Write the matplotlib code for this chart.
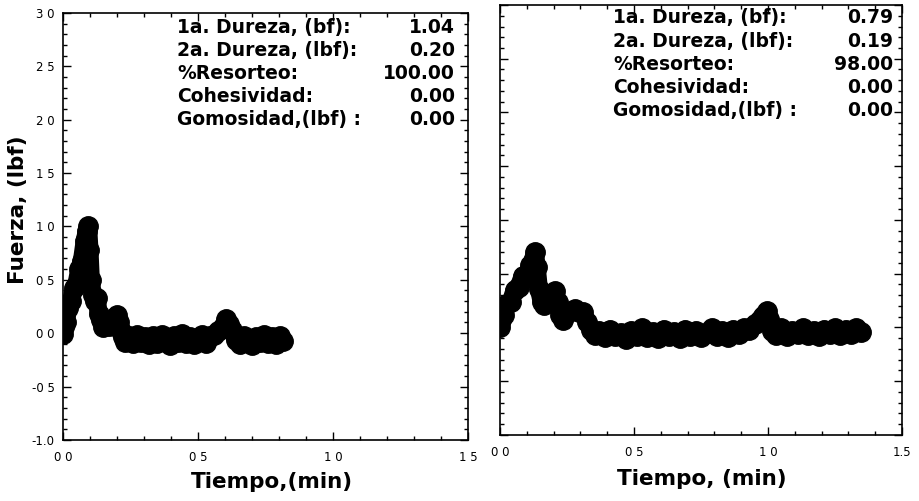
import matplotlib
matplotlib.use("Agg")
import matplotlib.pyplot as plt
from matplotlib.ticker import MultipleLocator, FixedLocator, FixedFormatter

plt.rcParams['font.family'] = ['DejaVu Sans']

# --- muestra 1: fuerza (lbf) vs tiempo (min)
t1 = [0.000, 0.005, 0.010, 0.020, 0.030, 0.040, 0.050, 0.060, 0.070, 0.080,
      0.088, 0.093, 0.098, 0.103, 0.110, 0.118, 0.125, 0.132, 0.140, 0.150,
      0.160, 0.170, 0.180, 0.190, 0.200, 0.208, 0.215, 0.222, 0.230, 0.245,
      0.260, 0.275, 0.290, 0.305, 0.320, 0.335, 0.350, 0.365, 0.380, 0.395,
      0.410, 0.425, 0.440, 0.455, 0.470, 0.485, 0.500, 0.515, 0.530, 0.545,
      0.560, 0.575, 0.590, 0.605, 0.615, 0.625, 0.640, 0.655, 0.670, 0.685,
      0.700, 0.715, 0.730, 0.745, 0.760, 0.775, 0.790, 0.805, 0.815]
f1 = [-0.01, 0.06, 0.10, 0.24, 0.30, 0.42, 0.46, 0.60, 0.68, 0.86,
      0.96, 1.00, 0.78, 0.50, 0.36, 0.30, 0.33, 0.18, 0.12, 0.06,
      0.12, 0.07, 0.13, 0.14, 0.17, 0.10, 0.02, -0.04, -0.08, -0.03,
      -0.09, -0.02, -0.08, -0.04, -0.10, -0.03, -0.09, -0.02, -0.07, -0.11,
      -0.03, -0.08, -0.01, -0.09, -0.04, -0.10, -0.05, -0.02, -0.09, -0.03,
      -0.02, 0.02, 0.05, 0.13, 0.09, 0.03, -0.06, -0.10, -0.03, -0.08,
      -0.11, -0.04, -0.08, -0.02, -0.09, -0.04, -0.10, -0.03, -0.07]

# --- muestra 2
t2 = [0.000, 0.005, 0.015, 0.025, 0.040, 0.055, 0.070, 0.085, 0.100, 0.112,
      0.122, 0.130, 0.137, 0.145, 0.155, 0.165, 0.180, 0.195, 0.205, 0.215,
      0.225, 0.235, 0.250, 0.265, 0.280, 0.295, 0.310, 0.325, 0.340, 0.355,
      0.370, 0.390, 0.410, 0.430, 0.450, 0.470, 0.490, 0.510, 0.530, 0.550,
      0.570, 0.590, 0.610, 0.630, 0.650, 0.670, 0.690, 0.710, 0.730, 0.750,
      0.770, 0.790, 0.810, 0.830, 0.850, 0.870, 0.890, 0.910, 0.930, 0.950,
      0.965, 0.980, 0.995, 1.005, 1.015, 1.030, 1.050, 1.070, 1.090, 1.110,
      1.130, 1.150, 1.170, 1.190, 1.210, 1.230, 1.250, 1.270, 1.290, 1.310,
      1.330, 1.345]
f2 = [0.00, 0.07, 0.12, 0.22, 0.24, 0.35, 0.38, 0.48, 0.47, 0.58,
      0.62, 0.70, 0.56, 0.36, 0.24, 0.21, 0.29, 0.31, 0.34, 0.24,
      0.12, 0.07, 0.13, 0.15, 0.17, 0.14, 0.14, 0.05, -0.02, -0.07,
      -0.03, -0.09, -0.02, -0.08, -0.05, -0.11, -0.03, -0.08, -0.01, -0.09,
      -0.04, -0.10, -0.02, -0.08, -0.04, -0.10, -0.02, -0.08, -0.03, -0.09,
      -0.05, -0.01, -0.08, -0.03, -0.09, -0.02, -0.06, -0.01, -0.02, 0.03,
      0.06, 0.11, 0.15, 0.08, -0.03, -0.07, -0.01, -0.08, -0.03, -0.06,
      -0.01, -0.07, -0.03, -0.08, -0.02, -0.06, -0.01, -0.07, -0.02, -0.06,
      -0.01, -0.04]

# resultados del análisis de textura
row_labels = ['1a. Dureza, (bf):', '2a. Dureza, (lbf):', '%Resorteo:',
              'Cohesividad:', 'Gomosidad,(lbf) :']
vals1 = ['1.04', '0.20', '100.00', '0.00', '0.00']
vals2 = ['0.79', '0.19', '98.00', '0.00', '0.00']

y_ticks = [3.0, 2.5, 2.0, 1.5, 1.0, 0.5, 0.0, -0.5, -1.0]
y_ticklabels = ['3 0', '2 5', '2 0', '1 5', '1 0', '0 5', '0 0', '-0 5', '-1.0']
x_ticks = [0.0, 0.5, 1.0, 1.5]
x_ticklabels1 = ['0 0', '0 5', '1 0', '1 5']
x_ticklabels2 = ['0 0', '0 5', '1 0', '1.5']

fig = plt.figure(figsize=(9.2, 5.01), dpi=100)
ax1 = fig.add_axes([0.0685, 0.122, 0.440, 0.852])
ax2 = fig.add_axes([0.5435, 0.132, 0.437, 0.858])


def style(ax, xlabels, show_y):
    ax.set_xlim(0, 1.5)
    ax.set_ylim(-1.0, 3.0)
    ax.xaxis.set_major_locator(FixedLocator(x_ticks))
    ax.xaxis.set_major_formatter(FixedFormatter(xlabels))
    ax.xaxis.set_minor_locator(MultipleLocator(0.1))
    ax.yaxis.set_major_locator(FixedLocator(y_ticks))
    ax.yaxis.set_minor_locator(MultipleLocator(0.1))
    if show_y:
        ax.yaxis.set_major_formatter(FixedFormatter(y_ticklabels))
    else:
        ax.set_yticklabels([])
    ax.tick_params(which='both', direction='in', top=True, right=True,
                   color='black', width=1.0)
    ax.tick_params(which='major', length=6, labelsize=8.5)
    ax.tick_params(axis='x', which='major', pad=8)
    ax.tick_params(axis='y', which='major', pad=6)
    ax.tick_params(which='minor', length=3)
    for s in ax.spines.values():
        s.set_linewidth(1.2)
        s.set_color('black')


for ax, t, f, vals, xl, show_y, y0, xr in [
        (ax1, t1, f1, vals1, x_ticklabels1, True, 0.966, 0.968),
        (ax2, t2, f2, vals2, x_ticklabels2, False, 0.970, 0.978)]:
    ax.plot(t, f, '-o', color='black', lw=13, ms=14,
            solid_capstyle='round', solid_joinstyle='round', zorder=3)
    style(ax, xl, show_y)
    for i, (lab, v) in enumerate(zip(row_labels, vals)):
        y = y0 - i * 0.054
        ax.text(0.282, y, lab, transform=ax.transAxes,
                fontsize=13.5, fontweight='bold', va='center', ha='left')
        ax.text(xr, y, v, transform=ax.transAxes,
                fontsize=13.5, fontweight='bold', va='center', ha='right')

lab_font = dict(fontsize=15.5, fontweight='bold')
ax1.set_ylabel('Fuerza, (lbf)', va='center', **lab_font)
ax1.yaxis.set_label_coords(-0.112, 0.54)
ax1.set_xlabel('Tiempo,(min)', **lab_font)
ax1.xaxis.set_label_coords(0.516, -0.076)
ax2.set_xlabel('Tiempo, (min)', **lab_font)
ax2.xaxis.set_label_coords(0.502, -0.079)

fig.savefig('out.png', dpi=100)
